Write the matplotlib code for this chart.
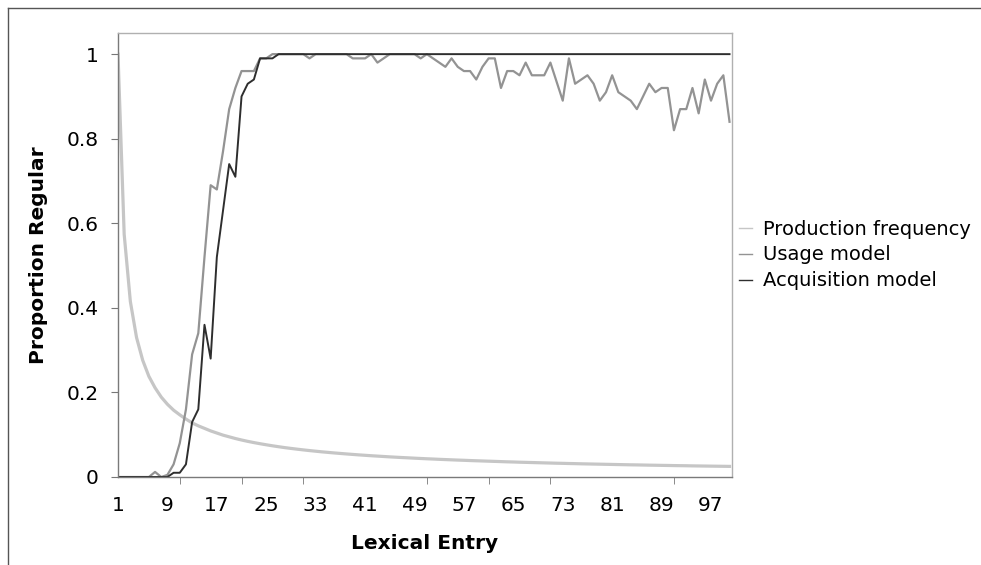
import matplotlib
matplotlib.use("Agg")
import matplotlib.pyplot as plt
from matplotlib.lines import Line2D
from matplotlib.ticker import FixedLocator

entries = list(range(1, 101))

production_frequency = [
    1.000, 0.574, 0.415, 0.330, 0.276, 0.238, 0.211, 0.189, 0.172, 0.158,
    0.147, 0.137, 0.128, 0.121, 0.115, 0.109, 0.104, 0.099, 0.095, 0.091,
    0.0875, 0.0843, 0.0814, 0.0787, 0.0762, 0.0738, 0.0716, 0.0695, 0.0676, 0.0658,
    0.0641, 0.0625, 0.0610, 0.0595, 0.0582, 0.0569, 0.0557, 0.0545, 0.0534, 0.0523,
    0.0513, 0.0503, 0.0494, 0.0485, 0.0476, 0.0468, 0.0460, 0.0453, 0.0445, 0.0438,
    0.0431, 0.0425, 0.0418, 0.0412, 0.0406, 0.0400, 0.0395, 0.0389, 0.0384, 0.0379,
    0.0374, 0.0369, 0.0364, 0.0359, 0.0355, 0.0350, 0.0346, 0.0342, 0.0338, 0.0334,
    0.0330, 0.0326, 0.0323, 0.0319, 0.0316, 0.0312, 0.0309, 0.0306, 0.0303, 0.0300,
    0.0297, 0.0294, 0.0291, 0.0288, 0.0286, 0.0283, 0.0280, 0.0278, 0.0275, 0.0273,
    0.0270, 0.0268, 0.0266, 0.0263, 0.0261, 0.0259, 0.0257, 0.0255, 0.0253, 0.0251,
]

usage_model = [
    0.0, 0.0, 0.0, 0.0, 0.0, 0.0, 0.012, 0.0, 0.005, 0.03,
    0.08, 0.16, 0.29, 0.34, 0.52, 0.69, 0.68, 0.77, 0.87, 0.92,
    0.96, 0.96, 0.96, 0.99, 0.99, 1.0, 1.0, 1.0, 1.0, 1.0,
    1.0, 0.99, 1.0, 1.0, 1.0, 1.0, 1.0, 1.0, 0.99, 0.99,
    0.99, 1.0, 0.98, 0.99, 1.0, 1.0, 1.0, 1.0, 1.0, 0.99,
    1.0, 0.99, 0.98, 0.97, 0.99, 0.97, 0.96, 0.96, 0.94, 0.97,
    0.99, 0.99, 0.92, 0.96, 0.96, 0.95, 0.98, 0.95, 0.95, 0.95,
    0.98, 0.935, 0.89, 0.99, 0.93, 0.94, 0.95, 0.93, 0.89, 0.91,
    0.95, 0.91, 0.90, 0.89, 0.87, 0.90, 0.93, 0.91, 0.92, 0.92,
    0.82, 0.87, 0.87, 0.92, 0.86, 0.94, 0.89, 0.93, 0.95, 0.84,
]

acquisition_model = [
    0.0, 0.0, 0.0, 0.0, 0.0, 0.0, 0.0, 0.0, 0.0, 0.01,
    0.01, 0.03, 0.13, 0.16, 0.36, 0.28, 0.52, 0.63, 0.74, 0.71,
    0.90, 0.93, 0.94, 0.99, 0.99, 0.99, 1.0, 1.0, 1.0, 1.0,
    1.0, 1.0, 1.0, 1.0, 1.0, 1.0, 1.0, 1.0, 1.0, 1.0,
    1.0, 1.0, 1.0, 1.0, 1.0, 1.0, 1.0, 1.0, 1.0, 1.0,
    1.0, 1.0, 1.0, 1.0, 1.0, 1.0, 1.0, 1.0, 1.0, 1.0,
    1.0, 1.0, 1.0, 1.0, 1.0, 1.0, 1.0, 1.0, 1.0, 1.0,
    1.0, 1.0, 1.0, 1.0, 1.0, 1.0, 1.0, 1.0, 1.0, 1.0,
    1.0, 1.0, 1.0, 1.0, 1.0, 1.0, 1.0, 1.0, 1.0, 1.0,
    1.0, 1.0, 1.0, 1.0, 1.0, 1.0, 1.0, 1.0, 1.0, 1.0,
]

x_tick_labels = ["1", "9", "17", "25", "33", "41", "49", "57", "65", "73", "81", "89", "97"]
y_ticks = [0, 0.2, 0.4, 0.6, 0.8, 1.0]
y_tick_labels = ["0", "0.2", "0.4", "0.6", "0.8", "1"]
series_names = ["Production frequency", "Usage model", "Acquisition model"]

FS = 14.5
W, H = 981, 565
fig = plt.figure(figsize=(W / 100, H / 100), dpi=100)
ax = fig.add_axes([118 / W, 1 - 477 / H, (732 - 118) / W, (477 - 33) / H])

ax.plot(entries, production_frequency, color="#c6c6c6", lw=2.3, label=series_names[0], solid_joinstyle="round")
ax.plot(entries, usage_model, color="#939393", lw=1.6, label=series_names[1])
ax.plot(entries, acquisition_model, color="#2e2e2e", lw=1.4, label=series_names[2])

ax.set_xlim(1, 100.4)
ax.set_ylim(0, 1.05)

ax.set_xticks([int(t) for t in x_tick_labels])
ax.set_xticklabels(x_tick_labels)
ax.xaxis.set_minor_locator(FixedLocator([1, 11, 21, 31, 41, 51, 61, 71, 81, 91]))
ax.tick_params(axis="x", which="major", length=0, pad=14, labelsize=FS)
ax.tick_params(axis="x", which="minor", length=5, direction="out", color="#777777")
ax.set_yticks(y_ticks)
ax.set_yticklabels(y_tick_labels)
ax.tick_params(axis="y", which="major", length=5, direction="out", pad=9, labelsize=FS, color="#777777")

for side in ["left", "bottom"]:
    ax.spines[side].set_color("#7a7a7a")
    ax.spines[side].set_linewidth(1.0)
for side in ["top", "right"]:
    ax.spines[side].set_color("#b0b0b0")
    ax.spines[side].set_linewidth(1.0)

ax.set_xlabel("Lexical Entry", fontsize=FS, fontweight="bold")
ax.set_ylabel("Proportion Regular", fontsize=FS, fontweight="bold")
ax.xaxis.set_label_coords(0.5, (477 - 534) / 444)
ax.yaxis.set_label_coords((48 - 118) / 614, 0.5)

leg = fig.legend(
    loc="center left",
    bbox_to_anchor=(739 / W, 1 - 255 / H),
    frameon=False,
    fontsize=14,
    handlelength=0.65,
    handletextpad=0.6,
    labelspacing=0.35,
    borderpad=0,
    borderaxespad=0,
)
for h in leg.get_lines():
    h.set_linewidth(1.0)

# outer frame lines (top and left)
fig.add_artist(Line2D([8 / W, 1.0], [1 - 8 / H, 1 - 8 / H], transform=fig.transFigure, color="#555555", lw=1.0))
fig.add_artist(Line2D([8 / W, 8 / W], [0.0, 1 - 8 / H], transform=fig.transFigure, color="#555555", lw=1.0))

fig.savefig("out.png", dpi=100)
